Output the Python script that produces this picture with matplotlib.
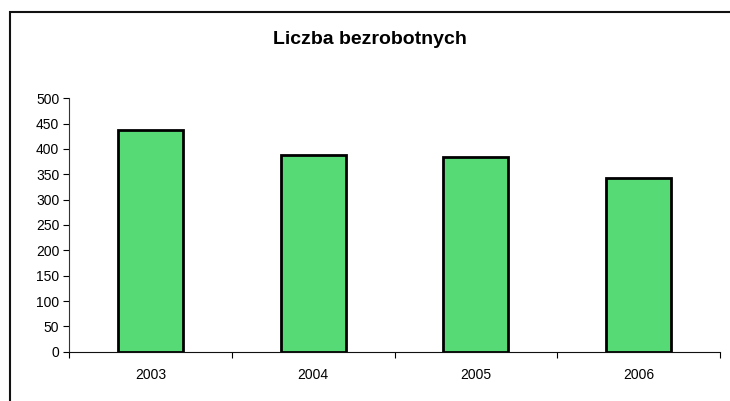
import matplotlib
matplotlib.use("Agg")
import matplotlib.pyplot as plt
from matplotlib.patches import Rectangle

years = ["2003", "2004", "2005", "2006"]
unemployed = [437, 388, 384, 343]
y_ticks = [0, 50, 100, 150, 200, 250, 300, 350, 400, 450, 500]

plt.rcParams["font.family"] = ["Liberation Sans", "DejaVu Sans"]

fig = plt.figure(figsize=(7.30, 4.01), dpi=100)

# outer chart frame (runs off the right and bottom edges as in the source)
fig.patches.append(Rectangle((9.5 / 730, -0.05), 1.2, 1 - 12 / 401 + 0.05,
                             transform=fig.transFigure, fill=False,
                             edgecolor="#111111", linewidth=1.5))

ax = fig.add_axes([69 / 730, 1 - 351.7 / 401, 651 / 730, 253.4 / 401])
x = list(range(len(years)))
ax.bar(x, unemployed, width=0.4, color="#55da76", edgecolor="black", linewidth=2.0, zorder=3)

ax.set_xlim(-0.5, len(years) - 0.5)
ax.set_ylim(0, 500)
ax.set_yticks(y_ticks)
ax.tick_params(axis="y", length=4, width=0.8, labelsize=10, pad=3)
ax.set_xticks(x)
ax.set_xticklabels(years)
ax.tick_params(axis="x", which="major", length=0, labelsize=10, pad=12)
ax.set_xticks([i - 0.5 for i in range(len(years) + 1)], minor=True)
ax.tick_params(axis="x", which="minor", length=4, width=0.8)

ax.spines["top"].set_visible(False)
ax.spines["right"].set_visible(False)
ax.spines["left"].set_color("#333333")
ax.spines["bottom"].set_color("#111111")

fig.text(370 / 730, 1 - 40 / 401, "Liczba bezrobotnych", ha="center", va="center",
         fontsize=14, weight="bold")

fig.savefig("out.png", dpi=100)
